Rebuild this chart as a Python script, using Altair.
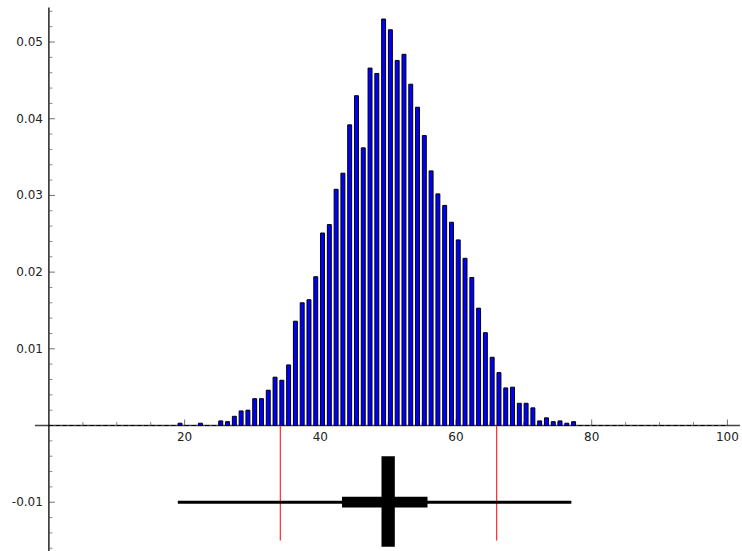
import altair as alt
import pandas as pd

# Relative frequency of each observed outcome (all other outcomes in 0..99 are zero)
outcomes = [19, 22, 25, 26, 27, 28, 29, 30, 31, 32, 33, 34, 35, 36, 37, 38, 39,
            40, 41, 42, 43, 44, 45, 46, 47, 48, 49, 50, 51, 52, 53, 54, 55, 56,
            57, 58, 59, 60, 61, 62, 63, 64, 65, 66, 67, 68, 69, 70, 71, 72, 73,
            74, 75, 76, 77]
frequencies = [0.0003, 0.0003, 0.0006, 0.0005, 0.0012, 0.0019, 0.0020, 0.0035,
               0.0035, 0.0046, 0.0063, 0.0059, 0.0079, 0.0136, 0.0160, 0.0164,
               0.0194, 0.0251, 0.0262, 0.0308, 0.0329, 0.0392, 0.0430, 0.0362,
               0.0466, 0.0459, 0.0530, 0.0516, 0.0476, 0.0484, 0.0445, 0.0415,
               0.0378, 0.0332, 0.0302, 0.0287, 0.0265, 0.0242, 0.0218, 0.0193,
               0.0153, 0.0121, 0.0089, 0.0069, 0.0049, 0.0050, 0.0029, 0.0029,
               0.0023, 0.0006, 0.0010, 0.0005, 0.0006, 0.0003, 0.0005]
support = list(range(0, 100))

# Summary drawn beneath the histogram
summary_level = -0.01
whisker = [19, 77]
quartiles = [43.2, 55.8]
median = 50
median_span = [-0.004, -0.0158]
interval_marks = [34.1, 66.0]
interval_span = [0.0, -0.015]

# Axis ticks and labels
x_major = [20, 40, 60, 80, 100]
x_labels = ["20", "40", "60", "80", "100"]
x_minor = [v for v in range(5, 100, 5) if v % 20 != 0]
y_major = [0.05, 0.04, 0.03, 0.02, 0.01, -0.01]
y_labels = ["0.05", "0.04", "0.03", "0.02", "0.01", "-0.01"]
y_minor = [round(-0.016 + 0.002 * i, 3) for i in range(36)]
y_minor = [v for v in y_minor if abs(round(v / 0.01) * 0.01 - v) > 1e-9]

W, H = 742, 551
xs = alt.Scale(domain=[-7.207, 102.15], nice=False, zero=False)
ys = alt.Scale(domain=[-0.016362, 0.05548], nice=False, zero=False)

freq_map = dict(zip(outcomes, frequencies))
bars_df = pd.DataFrame({
    "k": support,
    "left": [k + 0.04 for k in support],
    "right": [k + 0.62 for k in support],
    "freq": [freq_map.get(k, 0.0) for k in support],
    "base": 0.0,
})

FONT = "DejaVu Sans"

x_axis = alt.Chart(pd.DataFrame({"a": [-2.05], "b": [101.85], "y": [0.0]})).mark_rule(
    color="#444", strokeWidth=1.3
).encode(
    x=alt.X("a:Q", scale=xs, axis=None), x2="b:Q", y=alt.Y("y:Q", scale=ys, axis=None)
)

y_axis = alt.Chart(pd.DataFrame({"x": [0.0], "a": [0.0545], "b": [-0.0164]})).mark_rule(
    color="black", strokeWidth=1.3
).encode(
    x=alt.X("x:Q", scale=xs, axis=None), y=alt.Y("a:Q", scale=ys, axis=None), y2="b:Q"
)

bars = alt.Chart(bars_df).mark_rect(
    fill="#0000ff", stroke="black", strokeWidth=1
).encode(
    x=alt.X("left:Q", scale=xs, axis=None), x2="right:Q",
    y=alt.Y("base:Q", scale=ys, axis=None), y2="freq:Q"
)

ytick_major = alt.Chart(pd.DataFrame({"x": 0.0, "y": y_major})).mark_tick(
    orient="horizontal", size=6, thickness=1, xOffset=3, color="#333"
).encode(x=alt.X("x:Q", scale=xs, axis=None), y=alt.Y("y:Q", scale=ys, axis=None))

ytick_minor = alt.Chart(pd.DataFrame({"x": 0.0, "y": y_minor})).mark_tick(
    orient="horizontal", size=3.5, thickness=1, xOffset=1.75, color="#555"
).encode(x=alt.X("x:Q", scale=xs, axis=None), y=alt.Y("y:Q", scale=ys, axis=None))

xtick_major = alt.Chart(pd.DataFrame({"x": x_major, "y": 0.0})).mark_tick(
    orient="vertical", size=6, thickness=1, yOffset=-3, color="#333"
).encode(x=alt.X("x:Q", scale=xs, axis=None), y=alt.Y("y:Q", scale=ys, axis=None))

xtick_minor = alt.Chart(pd.DataFrame({"x": x_minor, "y": 0.0})).mark_tick(
    orient="vertical", size=3.5, thickness=1, yOffset=-1.75, color="#555"
).encode(x=alt.X("x:Q", scale=xs, axis=None), y=alt.Y("y:Q", scale=ys, axis=None))

ylab = alt.Chart(pd.DataFrame({"x": 0.0, "y": y_major, "t": y_labels})).mark_text(
    align="right", baseline="middle", dx=-6, font=FONT, fontSize=12, color="#222"
).encode(x=alt.X("x:Q", scale=xs, axis=None), y=alt.Y("y:Q", scale=ys, axis=None), text="t:N")

xlab = alt.Chart(pd.DataFrame({"x": x_major, "y": 0.0, "t": x_labels})).mark_text(
    align="center", baseline="middle", dy=11.5, font=FONT, fontSize=12, color="#222"
).encode(x=alt.X("x:Q", scale=xs, axis=None), y=alt.Y("y:Q", scale=ys, axis=None), text="t:N")

red = alt.Chart(pd.DataFrame({"x": interval_marks, "a": interval_span[0], "b": interval_span[1]})).mark_rule(
    color="#ff0000", strokeWidth=1
).encode(x=alt.X("x:Q", scale=xs, axis=None), y=alt.Y("a:Q", scale=ys, axis=None), y2="b:Q")

whisk = alt.Chart(pd.DataFrame({"a": [whisker[0]], "b": [whisker[1]], "y": [summary_level]})).mark_rule(
    color="black", strokeWidth=3
).encode(x=alt.X("a:Q", scale=xs, axis=None), x2="b:Q", y=alt.Y("y:Q", scale=ys, axis=None))

box = alt.Chart(pd.DataFrame({"a": [quartiles[0]], "b": [quartiles[1]], "y": [summary_level]})).mark_rule(
    color="black", strokeWidth=10.7
).encode(x=alt.X("a:Q", scale=xs, axis=None), x2="b:Q", y=alt.Y("y:Q", scale=ys, axis=None))

med = alt.Chart(pd.DataFrame({"x": [median], "a": [median_span[0]], "b": [median_span[1]]})).mark_rule(
    color="black", strokeWidth=13.3
).encode(x=alt.X("x:Q", scale=xs, axis=None), y=alt.Y("a:Q", scale=ys, axis=None), y2="b:Q")

chart = alt.layer(
    x_axis, y_axis, ytick_minor, ytick_major, xtick_minor, xtick_major,
    bars, red, whisk, box, med, ylab, xlab
).properties(
    width=W, height=H, padding=0,
    autosize=alt.AutoSizeParams(type="none"),
    background="white",
).configure_view(stroke=None)

chart.save("out.html", embed_options={"renderer": "svg", "actions": False})
